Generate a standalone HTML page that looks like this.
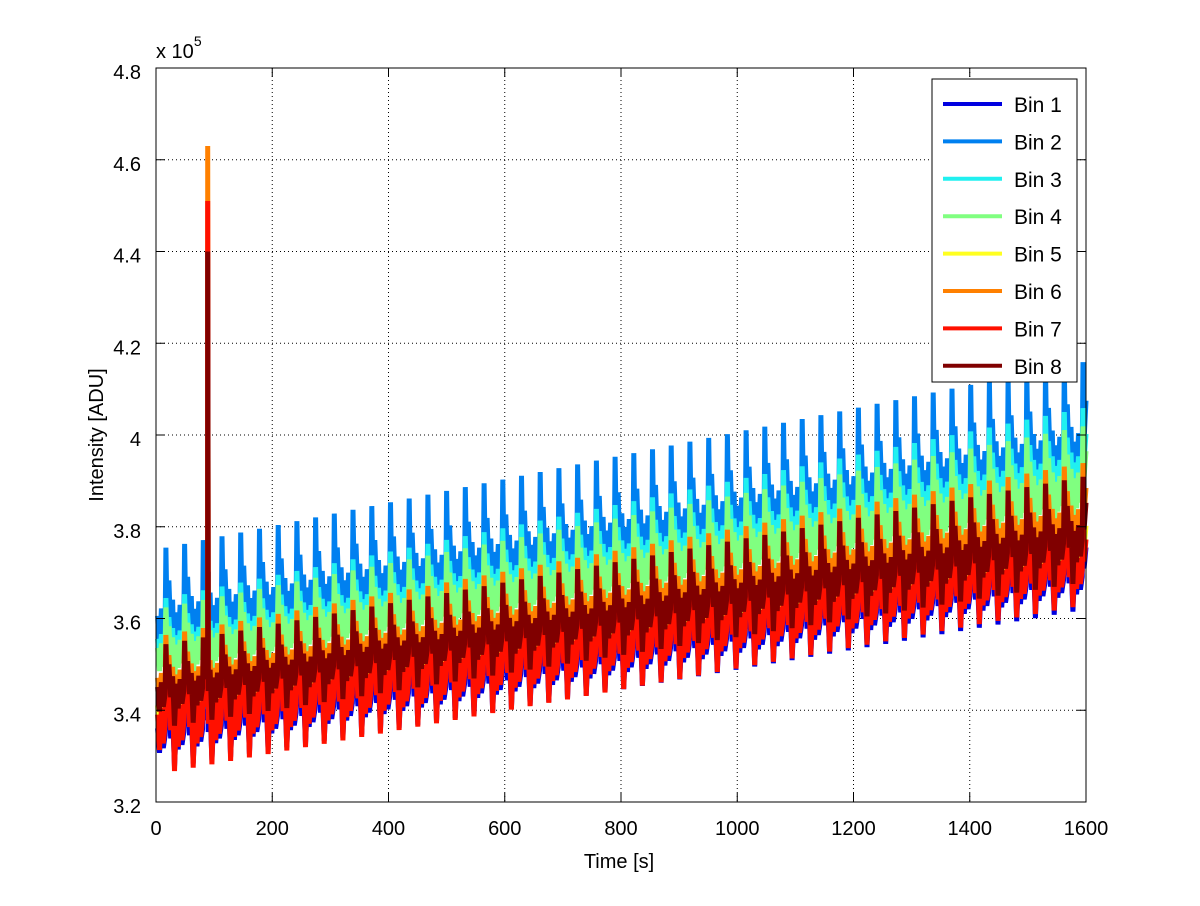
<!DOCTYPE html>
<html><head><meta charset="utf-8"><style>
body{margin:0;background:#fff;}
svg text{font-family:"Liberation Sans",sans-serif;fill:#000;}
</style></head><body>
<svg id="chart" width="1200" height="901" viewBox="0 0 1200 901" xmlns="http://www.w3.org/2000/svg">
<rect x="0" y="0" width="1200" height="901" fill="#fff"/>
<g id="grid"></g>
<g id="series"></g>
<g id="axes"></g>
<g id="legend"></g>
</svg>
<script>
const xTicks=[0,200,400,600,800,1000,1200,1400,1600];
const yTicks=[3.2,3.4,3.6,3.8,4,4.2,4.4,4.6,4.8];
const seriesNames=["Bin 1","Bin 2","Bin 3","Bin 4","Bin 5","Bin 6","Bin 7","Bin 8"];
const seriesColors=["#0000e0","#0080f0","#20f0f0","#80ff80","#ffff20","#ff8000","#ff1000","#800000"];
const troughStart=[3.27,3.46,3.47,3.45,3.32,3.38,3.26,3.36];
const troughEnd=[3.62,3.82,3.83,3.80,3.66,3.72,3.63,3.68];
const peakStart=[3.45,3.75,3.64,3.62,3.50,3.56,3.52,3.54];
const peakEnd=[3.80,4.16,4.06,4.02,3.85,3.94,3.82,3.91];
const spikeValues=[3.5,3.7,3.6,3.6,3.6,4.63,4.51,4.40];
const spikeTime=89;
const cyclePeriod=32.2, firstPeak=17;
const shapePhase=[0,0.04,0.1,0.2,0.3,0.4,0.5,0.6,0.7,0.8,0.9,1];
const shapeLevel=[0.4,1,0.5,0.75,0.35,0.6,0.0,0.5,0.2,0.55,0.25,0.4];

const X0=156,X1=1086,Y0=802,Y1=68;
const sx=v=>X0+(v-0)/1600*(X1-X0);
const sy=v=>Y0-(v-3.2)/1.6*(Y0-Y1);
const NS="http://www.w3.org/2000/svg";
function mk(tag,parent,attrs){const e=document.createElementNS(NS,tag);for(const k in attrs)e.setAttribute(k,attrs[k]);parent.appendChild(e);return e;}

const grid=document.getElementById('grid');
xTicks.forEach(t=>{if(t>0&&t<1600){const l=mk('line',grid,{x1:sx(t),x2:sx(t),y1:Y1,y2:Y0,stroke:'#000','stroke-width':1,'stroke-dasharray':'1,3'});

}});
yTicks.forEach(t=>{if(t>3.2&&t<4.8){const l=mk('line',grid,{x1:X0,x2:X1,y1:sy(t),y2:sy(t),stroke:'#000','stroke-width':1,'stroke-dasharray':'1,3'});

}});

const sg=document.getElementById('series');
seriesNames.forEach((nm,i)=>{
  const pts=[];
  for(let c=-1;;c++){
    const t0=firstPeak-shapePhase[1]*cyclePeriod+c*cyclePeriod;
    if(t0>1600)break;
    for(let k=0;k<shapePhase.length-1;k++){
      const t=t0+shapePhase[k]*cyclePeriod;
      if(t<0||t>1600)continue;
      const f=t/1600;
      const lo=troughStart[i]+(troughEnd[i]-troughStart[i])*f;
      const hi=peakStart[i]+(peakEnd[i]-peakStart[i])*f;
      let v=lo+(hi-lo)*shapeLevel[k];
      pts.push([t,v]);
      if(t<spikeTime && t+(shapePhase[k+1]-shapePhase[k])*cyclePeriod>=spikeTime){
        pts.push([spikeTime,v]);pts.push([spikeTime,spikeValues[i]]);pts.push([spikeTime+1,v]);
      }
    }
  }
  const p=mk('polyline',sg,{points:pts.map(q=>sx(q[0]).toFixed(1)+','+sy(q[1]).toFixed(1)).join(' '),fill:'none',stroke:seriesColors[i],'stroke-width':5,'stroke-linejoin':'miter','stroke-miterlimit':2});
  
  
});

const ax=document.getElementById('axes');
const box=mk('rect',ax,{x:X0,y:Y1,width:X1-X0,height:Y0-Y1,fill:'none',stroke:'#000','stroke-width':1});


xTicks.forEach(t=>{
  mk('line',ax,{x1:sx(t),x2:sx(t),y1:Y0,y2:Y0-9,stroke:'#000'});
  mk('line',ax,{x1:sx(t),x2:sx(t),y1:Y1,y2:Y1+9,stroke:'#000'});
  const tx=mk('text',ax,{x:sx(t),y:Y0+33,'font-size':20,'text-anchor':'middle'});tx.textContent=t;
  
  
});
yTicks.forEach(t=>{
  mk('line',ax,{x1:X0,x2:X0+9,y1:sy(t),y2:sy(t),stroke:'#000'});
  mk('line',ax,{x1:X1,x2:X1-9,y1:sy(t),y2:sy(t),stroke:'#000'});
  const tx=mk('text',ax,{x:X0-15,y:sy(t)+11,'font-size':20,'text-anchor':'end'});tx.textContent=String(t);
  
  
});
const xt=mk('text',ax,{x:619,y:868,'font-size':20,'text-anchor':'middle'});xt.textContent='Time [s]';


const yt=mk('text',ax,{x:0,y:0,'font-size':20,'text-anchor':'middle',transform:'translate(103,435) rotate(-90)'});yt.textContent='Intensity [ADU]';


const ex=mk('text',ax,{x:156,y:58,'font-size':20});ex.innerHTML='x 10<tspan dy="-12" font-size="14">5</tspan>';



const lg=document.getElementById('legend');
const lb=mk('rect',lg,{x:932,y:79,width:145,height:303,fill:'#fff',stroke:'#000','stroke-width':1});


seriesNames.forEach((nm,i)=>{
  const y=104+i*37.4;
  const g=mk('g',lg,{});
  
  
  mk('line',g,{x1:943,x2:1002,y1:y,y2:y,stroke:seriesColors[i],'stroke-width':4});
  const t=mk('text',g,{x:1014,y:y+8,'font-size':21});t.textContent=nm;
});
</script>
</body></html>
